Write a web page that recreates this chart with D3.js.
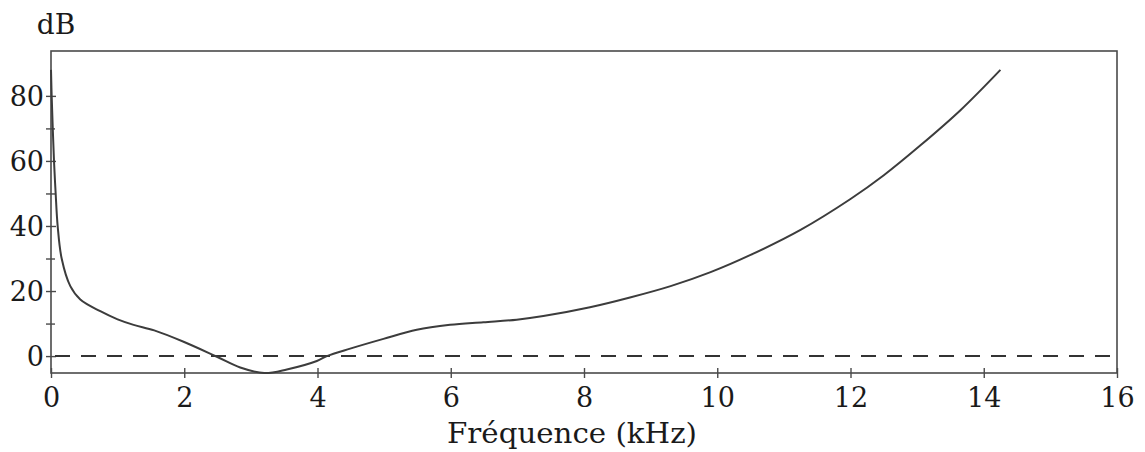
<!DOCTYPE html>
<html>
<head>
<meta charset="utf-8">
<script src="https://cdn.jsdelivr.net/npm/d3@7"></script>
<style>
  html, body { margin: 0; padding: 0; background: #fff; }
  svg { display: block; }
  svg text { font-family: "DejaVu Serif", "Liberation Serif", "Times New Roman", serif; fill: #1a1a1a; }
</style>
</head>
<body>
<svg id="chart" width="1145" height="452"></svg>
<script>
// ---- data ----
const freq = [0, 0.01, 0.045, 0.07, 0.1, 0.16, 0.29, 0.44, 0.74, 1.0, 1.24, 1.55, 1.99, 2.49, 2.84, 3.2, 3.54, 3.99, 4.14, 4.49, 4.99, 5.49, 5.99, 6.49, 6.99, 7.39, 8.09, 8.69, 9.3, 9.9, 10.5, 11.25, 12.0, 12.5, 13.05, 13.65, 14.25];
const dB   = [88, 80, 60, 50, 40, 30, 21.5, 17.4, 13.8, 11.3, 9.6, 7.9, 4.4, -0.2, -3.5, -5.2, -4.1, -1.5, 0, 2.3, 5.3, 8.1, 9.6, 10.4, 11.2, 12.3, 15.0, 18.0, 21.5, 25.8, 31.1, 38.8, 48.3, 55.6, 64.8, 75.6, 88];
const xTicks = [0, 2, 4, 6, 8, 10, 12, 14, 16];
const yTicksMajor = [0, 20, 40, 60, 80];
const yTicksMinor = [10, 30, 50, 70];
const referenceLevel = [0];
const xLabel = "Fréquence (kHz)";
const yLabel = "dB";

// ---- layout ----
const L = 51, R = 1117, T = 51, B = 373;
const FONT = '"DejaVu Serif", "Liberation Serif", "Times New Roman", serif';
const svg = d3.select("#chart");
const x = d3.scaleLinear().domain([0, 16]).range([L, R]);
const y = d3.scaleLinear().domain([-5.2, 93.8]).range([B, T]);

const axisColor = "#4a4a4a";

// frame
svg.append("rect")
  .attr("x", L).attr("y", T).attr("width", R - L).attr("height", B - T)
  .attr("fill", "none").attr("stroke", axisColor).attr("stroke-width", 1.6);

// x axis
const gx = svg.append("g").attr("transform", `translate(0,${B})`)
  .call(d3.axisBottom(x).tickValues(xTicks).tickSize(5).tickPadding(8).tickFormat(d3.format("d")));
gx.attr("font-family", FONT);
gx.select(".domain").remove();
gx.selectAll(".tick line").attr("y1", -5).attr("stroke", axisColor).attr("stroke-width", 1.4);
gx.selectAll(".tick text").attr("font-size", 27).style("font-family", FONT).attr("fill", "#1a1a1a").attr("dy", "0.78em");

// y axis major
const gy = svg.append("g").attr("transform", `translate(${L},0)`)
  .call(d3.axisLeft(y).tickValues(yTicksMajor).tickSize(5).tickPadding(2).tickFormat(d3.format("d")));
gy.attr("font-family", FONT);
gy.select(".domain").remove();
gy.selectAll(".tick line").attr("x1", 5).attr("stroke", axisColor).attr("stroke-width", 1.4);
gy.selectAll(".tick text").attr("font-size", 27).style("font-family", FONT).attr("fill", "#1a1a1a").attr("dy", "0.36em");

// y axis minor
const gym = svg.append("g").attr("transform", `translate(${L},0)`)
  .call(d3.axisLeft(y).tickValues(yTicksMinor).tickSize(5).tickFormat(""));
gym.select(".domain").remove();
gym.selectAll(".tick line").attr("x1", 4).attr("stroke", axisColor).attr("stroke-width", 1.4);

// dashed reference line at 0 dB
svg.selectAll(".ref").data(referenceLevel).enter().append("line")
  .attr("class", "ref")
  .attr("x1", x(0) + 4).attr("x2", R)
  .attr("y1", d => y(d)).attr("y2", d => y(d))
  .attr("stroke", "#333").attr("stroke-width", 2)
  .attr("stroke-dasharray", "15,11");

// curve
const pts = freq.map((f, i) => [f, dB[i]]);
const line = d3.line().x(d => x(d[0])).y(d => y(d[1])).curve(d3.curveCatmullRom.alpha(0.5));
svg.append("path").datum(pts)
  .attr("d", line)
  .attr("fill", "none").attr("stroke", "#3c3c3c").attr("stroke-width", 2);

// labels
svg.append("text").attr("x", 56).attr("y", 34).attr("text-anchor", "middle")
  .attr("font-size", 28).style("font-family", FONT).text(yLabel);
svg.append("text").attr("x", 572).attr("y", 443).attr("text-anchor", "middle")
  .attr("font-size", 28).style("font-family", FONT)
  .attr("textLength", 250).attr("lengthAdjust", "spacingAndGlyphs").text(xLabel);
</script>
</body>
</html>
